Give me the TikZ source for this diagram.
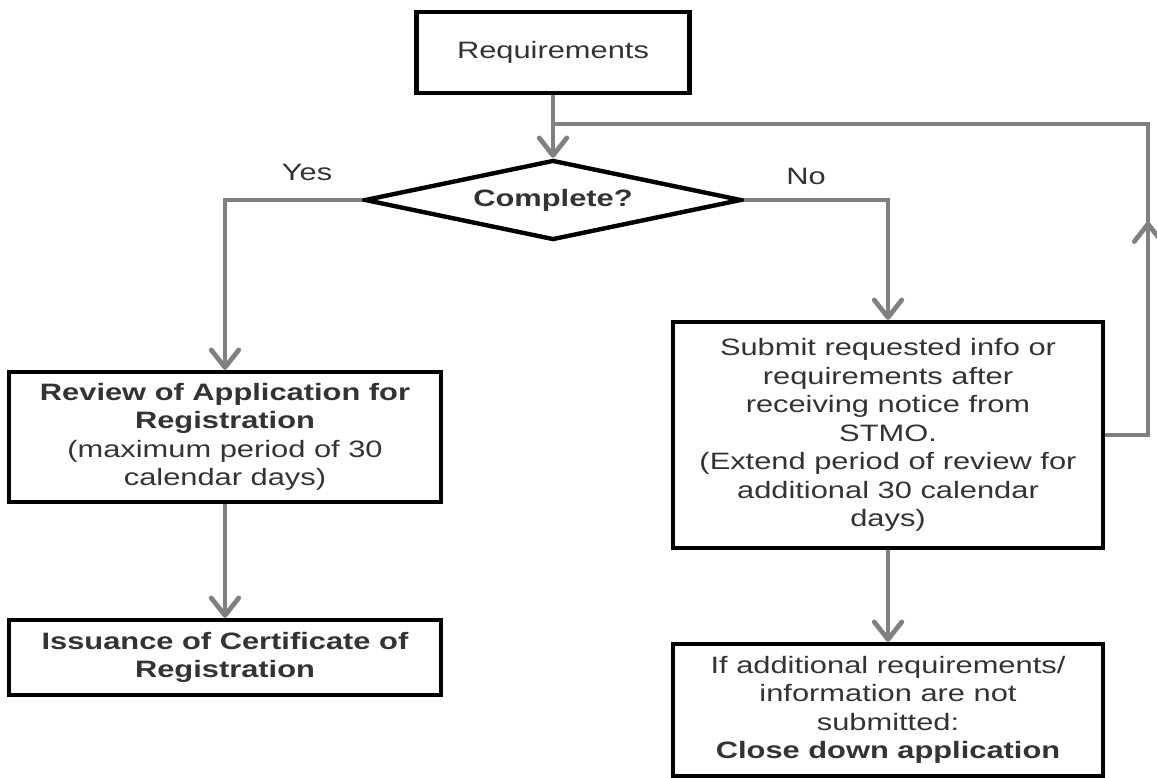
\documentclass[tikz,border=0pt]{standalone}
\usepackage{fontspec}
\setmainfont[FakeStretch=1.3]{Liberation Sans}
\usepackage{tikz}
\usetikzlibrary{shapes,arrows.meta}
\usetikzlibrary{positioning}
\usetikzlibrary{decorations.markings}
\tikzset{
	tip/.tip={Straight Barb[length=3.5mm,width=5.5mm,line width=0pt 1.5,round]},
	block/.style={draw=black, line width=2.5pt, text=black!80, align=center, inner sep=2pt},
	decision/.style={diamond, shape aspect=4.7, draw=black, line width=2.5pt, text=black!80,
		inner sep=0pt, minimum width=7.54cm, minimum height=1.6cm},
	flow/.style={draw=gray, line width=1.8pt, -tip},
	loopback/.style={draw=gray, line width=1.8pt, postaction={decorate},
		decoration={markings,mark=at position .27 with {\arrow[draw=gray]{tip}}}},
}
\tikzstyle{line} = [draw=gray, line width=1.8pt]

\begin{document}
\begin{tikzpicture}[x=0.02cm, y=-0.02cm, font=\fontsize{13.5}{16.2}\selectfont]
	\useasboundingbox (0,0) rectangle (1157,778);
	\node[block, minimum width=5.46cm, minimum height=1.62cm] (req) at (553,52.5) {Requirements};
	\node[decision] (dec) at (553,200) {\textbf{Complete?}};
	\node[block, minimum width=8.64cm, minimum height=2.6cm] (rev) at (225,437)
		{\textbf{Review of Application for}\\\textbf{Registration}\\(maximum period of 30\\calendar days)};
	\node[block, minimum width=8.64cm, minimum height=1.5cm] (iss) at (225,657.5)
		{\textbf{Issuance of Certificate of}\\\textbf{Registration}};
	\node[block, minimum width=8.6cm, minimum height=4.52cm] (sub) at (888,435)
		{Submit requested info or\\requirements after\\receiving notice from\\STMO.\\(Extend period of review for\\additional 30 calendar\\days)};
	\node[block, minimum width=8.6cm, minimum height=2.64cm] (clo) at (888,710)
		{If additional requirements/\\information are not\\submitted:\\\textbf{Close down application}};
	\node[text=black!80] (yes) at (307,172) {Yes};
	\node[text=black!80] (no) at (806,176) {No};
	\coordinate (jn) at (553,124);
	\coordinate (rt) at (1148,124);
	\coordinate (rb) at (1148,435);

	\draw[flow] (req) -- (dec);
	\draw[flow] (dec.west) -| (rev.north);
	\draw[flow] (dec.east) -| (sub.north);
	\draw[flow] (rev) -- (iss);
	\draw[flow] (sub) -- (clo);
	\draw[loopback] (sub.east) -- (rb) -- (rt) -- (jn);
\end{tikzpicture}
\end{document}
